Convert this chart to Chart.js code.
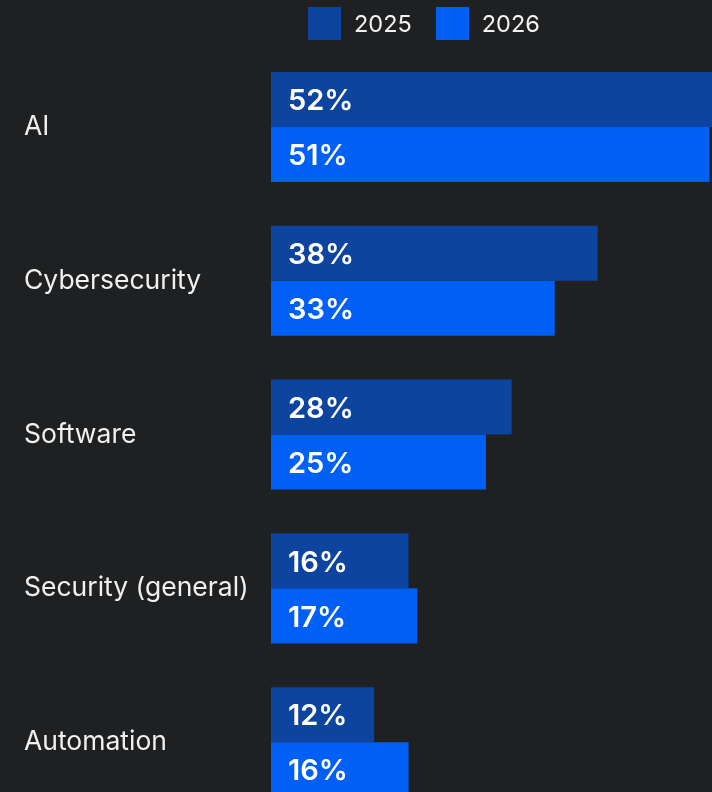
<!DOCTYPE html>
<html>
<head>
<meta charset="utf-8">
<script src="https://cdn.jsdelivr.net/npm/chart.js@4.4.1/dist/chart.umd.min.js"></script>
<style>
  html, body { margin: 0; padding: 0; background: #1f2022; overflow: hidden; }
  #wrap { position: relative; width: 712px; height: 838px; }
  #legend { position: absolute; top: 7px; left: 308px; display: flex; align-items: center;
    font-family: Inter, sans-serif; font-size: 23.5px; color: #f2f2f2; }
  #legend .item { display: flex; align-items: center; margin-right: 24px; }
  #legend .box { width: 33px; height: 33px; margin-right: 13px; }
</style>
</head>
<body>
<div id="wrap">
  <canvas id="skillsChart" width="712" height="838"></canvas>
  <div id="legend"></div>
</div>
<script>
  const categories = ["AI", "Cybersecurity", "Software", "Security (general)", "Automation"];
  const values2025 = [52, 38, 28, 16, 12];
  const values2026 = [51, 33, 25, 17, 16];
  const seriesLabels = ["2025", "2026"];
  const colors = ["#0d44a0", "#0060f6"];

  // legend drawn in html
  const legend = document.getElementById("legend");
  seriesLabels.forEach((lbl, i) => {
    const item = document.createElement("div");
    item.className = "item";
    item.innerHTML = '<div class="box" style="background:' + colors[i] + '"></div><span>' + lbl + '</span>';
    legend.appendChild(item);
  });

  const valueLabels = {
    id: "valueLabels",
    afterDatasetsDraw(chart) {
      const ctx = chart.ctx;
      ctx.save();
      ctx.fillStyle = "#ffffff";
      ctx.font = "600 29px Inter, sans-serif";
      ctx.textAlign = "left";
      ctx.textBaseline = "middle";
      chart.data.datasets.forEach((ds, i) => {
        chart.getDatasetMeta(i).data.forEach((bar, j) => {
          ctx.fillText(ds.data[j] + "%", bar.base + 17, bar.y + 2);
        });
      });
      ctx.restore();
    },
  };

  const ctx = document.getElementById("skillsChart").getContext("2d");
  const skillsChart = new Chart(ctx, {
    type: "bar",
    data: {
      labels: categories,
      datasets: [
        { label: seriesLabels[0], data: values2025, backgroundColor: colors[0] },
        { label: seriesLabels[1], data: values2026, backgroundColor: colors[1] },
      ],
    },
    options: {
      indexAxis: "y",
      responsive: false,
      animation: false,
      categoryPercentage: 0.7154,
      barPercentage: 1.0,
      layout: { padding: { top: 50, left: 24, right: 0, bottom: 0 } },
      scales: {
        x: { display: false, min: 0, max: 51.3 },
        y: {
          grid: { display: false },
          border: { display: false },
          afterFit: (scale) => { scale.width = 247; },
          ticks: {
            crossAlign: "far",
            color: "#f0f0f0",
            font: { family: "Inter, sans-serif", size: 26.5 },
          },
        },
      },
      plugins: {
        legend: { display: false },
        tooltip: { enabled: false },
      },
    },
    plugins: [valueLabels],
  });
</script>
</body>
</html>
